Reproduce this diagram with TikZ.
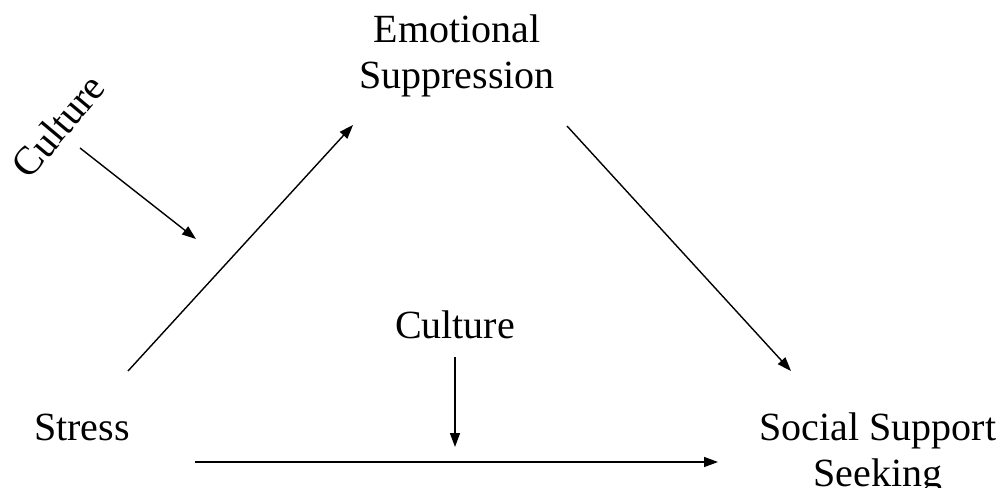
\documentclass[tikz,border=0pt]{standalone}
\usepackage{fontspec}
\setmainfont{Liberation Serif}
\usetikzlibrary{arrows.meta}
\begin{document}
\begin{tikzpicture}[x=1pt,y=-1pt,
  lbl/.style={font=\fontsize{40}{46}\selectfont, inner sep=0pt, align=center},
  arr/.style={line width=1.4pt, -{Triangle[length=14pt,width=10pt]}}]
\useasboundingbox (0,0) rectangle (1003,487);
\node[lbl, anchor=base] (emo) at (457,88) {Emotional\\Suppression};
\node[lbl, anchor=base] (stress) at (82,440) {Stress};
\node[lbl, anchor=base] (social) at (878,486) {Social Support\\Seeking};
\node[lbl, anchor=base] (cult2) at (455,338) {Culture};
\node[lbl, rotate=50] (cult1) at (58,126) {Culture};
\coordinate (c1s) at (80,148);
\coordinate (c1e) at (196,239);
\coordinate (s1) at (128,371);
\coordinate (e1) at (353,125);
\coordinate (e2) at (567,126);
\coordinate (so1) at (791,371);
\coordinate (c2s) at (455,357);
\coordinate (c2e) at (455,447);
\coordinate (s2) at (195,462);
\coordinate (so2) at (718,462);
\draw[arr] (c1s) -- (c1e);
\draw[arr] (s1) -- (e1);
\draw[arr] (e2) -- (so1);
\draw[arr] (c2s) -- (c2e);
\draw[arr] (s2) -- (so2);
\end{tikzpicture}
\end{document}
